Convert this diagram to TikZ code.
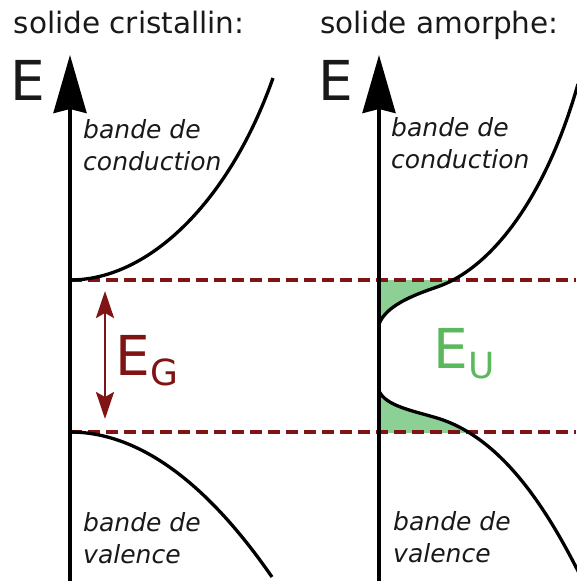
\documentclass[tikz,border=0pt]{standalone}
\usepackage{fontspec}
\setmainfont{DejaVu Sans}
\usepackage{tikz}
\usetikzlibrary{arrows.meta}
\definecolor{gapred}{RGB}{128,20,20}
\definecolor{tailgreen}{RGB}{140,208,150}
\definecolor{urbgreen}{RGB}{92,184,92}
\definecolor{inkgray}{RGB}{25,25,25}

\begin{document}
\begin{tikzpicture}[
	x=1pt, y=-1pt,
	axis/.style={line width=3.5pt, -{Stealth[length=58pt, width=33pt, inset=4pt]}},
	band/.style={line width=3.3pt},
	level/.style={gapred, line width=3.2pt, dash pattern=on 12pt off 6pt},
	gaparrow/.style={gapred, line width=2.6pt, {Stealth[length=27pt, width=18pt, inset=5pt]}-{Stealth[length=27pt, width=18pt, inset=5pt]}},
	title/.style={anchor=base west, inner sep=0pt, text=inkgray, font=\fontsize{29.5}{29.5}\selectfont},
	elabel/.style={anchor=base west, inner sep=0pt, font=\fontsize{55}{55}\selectfont},
	sublabel/.style={anchor=base west, inner sep=0pt, font=\fontsize{36}{36}\selectfont},
	bandname/.style={anchor=base west, inner sep=0pt, align=left, text=inkgray, font=\fontsize{25}{32}\selectfont\itshape}
]
\useasboundingbox (0,0) rectangle (576,581);

% band tails (amorphous solid)
\begin{scope}
	\clip (379,280) rectangle (576,330);
	\fill[tailgreen] (379,324) .. controls (386,306) and (412,295.5) .. (437,287)
		.. controls (490,269) and (545,200) .. (578,84) -- (379,60) -- cycle;
\end{scope}
\begin{scope}
	\clip (379,392) rectangle (576,432);
	\fill[tailgreen] (379,391) .. controls (386,406) and (412,410.5) .. (437,418)
		.. controls (500,437) and (545,505) .. (580,575) -- (379,581) -- cycle;
\end{scope}

% band edges
\coordinate (cb) at (70,280);
\coordinate (cbend) at (576,280);
\coordinate (vb) at (70,432);
\coordinate (vbend) at (576,432);
\draw[level] (cb) -- (cbend);
\draw[level] (vb) -- (vbend);

% energy axes
\coordinate (oc) at (70,581);
\coordinate (tc) at (70,55);
\coordinate (oa) at (379,581);
\coordinate (ta) at (379,55);
\draw[axis] (oc) -- (tc);
\draw[axis] (oa) -- (ta);

% crystalline bands
\draw[band] (cb) .. controls (150,280) and (230,200) .. (273,78);
\draw[band] (vb) .. controls (137,432) and (205,480) .. (272,577);

% amorphous bands
\draw[band] (379,324) .. controls (386,306) and (412,295.5) .. (437,287)
	.. controls (490,269) and (545,200) .. (578,84);
\draw[band] (379,391) .. controls (386,406) and (412,410.5) .. (437,418)
	.. controls (500,437) and (545,505) .. (580,575);

% gap
\coordinate (gtop) at (105,291);
\coordinate (gbot) at (105,419);
\draw[gaparrow] (gtop) -- (gbot);

% texts
\node[title] (tcris) at (13.5,33) {solide cristallin:};
\node[title] (tamor) at (320,33) {solide amorphe:};
\node[elabel, text=inkgray] (ecris) at (10,100) {E};
\node[elabel, text=inkgray] (eamor) at (318,100) {E};
\node[elabel, text=gapred] (eg) at (115,375) {E};
\node[sublabel, text=gapred] (egsub) at ([yshift=-10pt]eg.base east) {G};
\node[elabel, text=urbgreen] (eu) at (433,368) {E};
\node[sublabel, text=urbgreen] (eusub) at ([yshift=-10pt]eu.base east) {U};
\node[bandname] (ccris) at (83,170) {bande de\\conduction};
\node[bandname] (camor) at (391,168) {bande de\\conduction};
\node[bandname] (vcris) at (83,563) {bande de\\valence};
\node[bandname] (vamor) at (393,562) {bande de\\valence};
\end{tikzpicture}
\end{document}
